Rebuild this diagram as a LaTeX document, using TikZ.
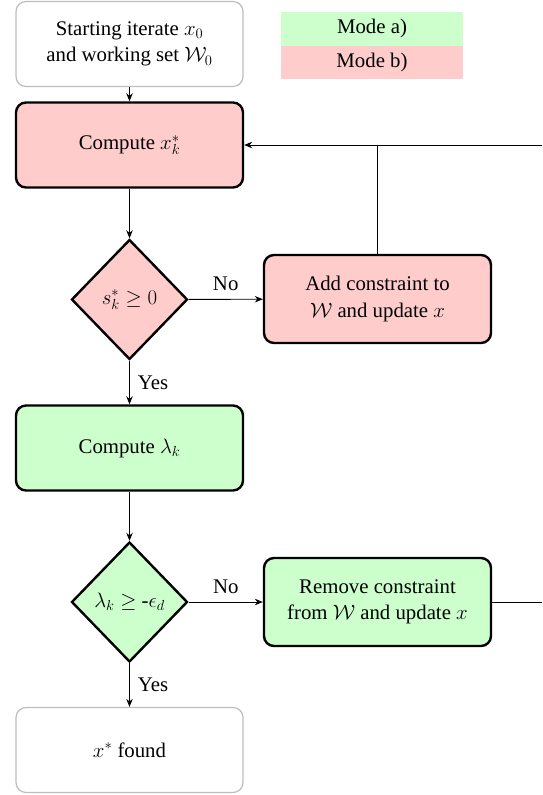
\RequirePackage{fix-cm}
\documentclass[tikz,border=0pt]{standalone}
\usepackage[no-math]{fontspec}
\setmainfont{Liberation Serif}
\newfontfamily\timesfont{Liberation Serif}
\usetikzlibrary{shapes.geometric,arrows.meta}
\definecolor{modeA}{HTML}{CCFFCC}
\definecolor{modeB}{HTML}{FFCCCC}
\definecolor{lightbd}{HTML}{BDBDBD}
\begin{document}
\begin{tikzpicture}[x=1pt,y=-1pt,
  font=\timesfont\fontsize{20.8}{26.5}\selectfont,
  box/.style={rectangle, rounded corners=10pt, minimum width=227pt, minimum height=85pt, align=center, inner sep=0pt},
  thickbox/.style={box, draw=black, line width=2.4pt},
  softbox/.style={box, draw=lightbd, line width=1.2pt},
  dec/.style={diamond, draw=black, line width=2.4pt, minimum width=116pt, minimum height=120pt, inner sep=0pt},
  arr/.style={-{Stealth[length=8pt,width=6.5pt]}, line width=0.9pt},
  conn/.style={line width=0.9pt},
  lbl/.style={inner sep=0pt},
  legend/.style={rectangle, inner sep=0pt, minimum width=182pt}]
\useasboundingbox (0,0) rectangle (542,795);
\clip (0,0) rectangle (542,795);

\node[softbox] (start) at (129.5,44) {Starting iterate $x_0$\\and working set $\mathcal{W}_0$};
\node[legend, fill=modeA, minimum height=34pt] (ma) at (372,28.5) {Mode a)};
\node[legend, fill=modeB, minimum height=33pt] (mb) at (372,62.5) {Mode b)};

\node[thickbox, fill=modeB] (cx) at (129.5,145) {Compute $x_k^*$};
\node[dec, fill=modeB] (d1) at (129.5,299.5) {$s_k^*\geq 0$};
\node[thickbox, fill=modeB, minimum height=88pt] (add) at (377.5,299) {Add constraint to\\$\mathcal{W}$ and update $x$};
\node[thickbox, fill=modeA] (cl) at (129.5,448) {Compute $\lambda_k$};
\node[dec, fill=modeA] (d2) at (129.5,602) {$\lambda_k\geq$ -$\epsilon_d$};
\node[thickbox, fill=modeA, minimum height=88pt] (rem) at (377.5,602) {Remove constraint\\from $\mathcal{W}$ and update $x$};
\node[softbox] (fin) at (129.5,750) {$x^*$ found};

\coordinate (rr) at (570,602);
\coordinate (rt) at (570,145);

\draw[arr] (start) -- (cx);
\draw[arr] (cx) -- (d1);
\draw[arr] (d1) -- node[lbl, above=8pt] {No} (add);
\draw[arr] (d1) -- node[lbl, right=8pt] {Yes} (cl);
\draw[arr] (cl) -- (d2);
\draw[arr] (d2) -- node[lbl, above=8pt] {No} (rem);
\draw[arr] (d2) -- node[lbl, right=8pt] {Yes} (fin);
\draw[conn] (rem.east) -- (rr) -- (rt);
\draw[arr] (rt) -- (cx.east);
\draw[conn] (add.north) -- (add.north |- cx.east);
\end{tikzpicture}
\end{document}
